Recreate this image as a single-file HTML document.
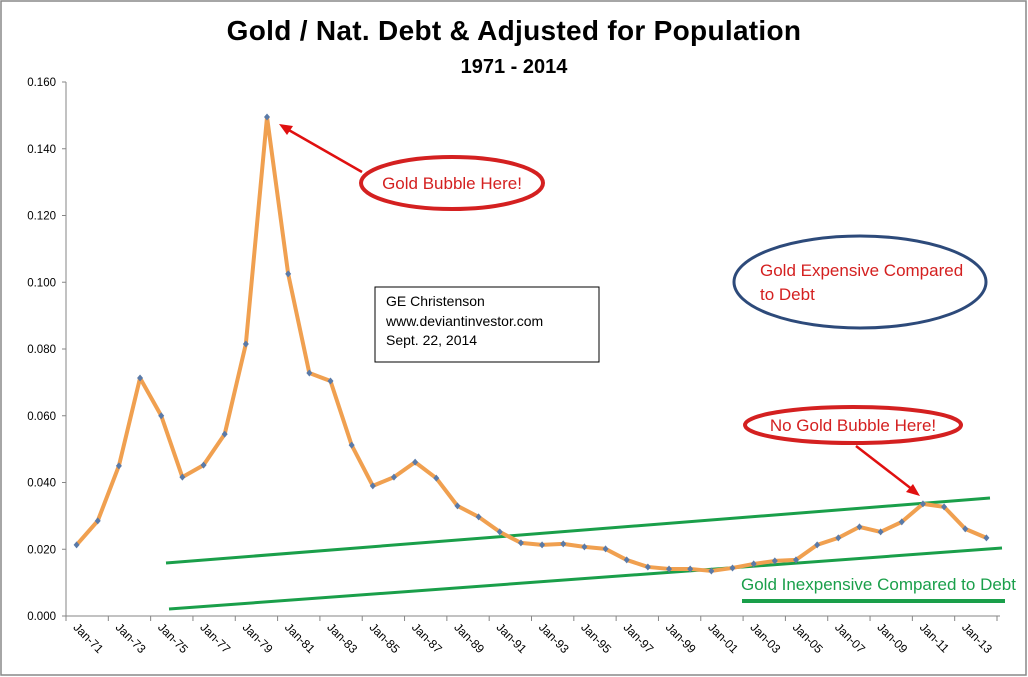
<!DOCTYPE html>
<html><head><meta charset="utf-8"><style>
html,body{margin:0;padding:0;background:#fff}
svg{display:block;font-family:"Liberation Sans",sans-serif}
</style></head><body>
<svg id="c" width="1028" height="677" viewBox="0 0 1028 677">
<rect x="1" y="1" width="1025" height="674" fill="#fff" stroke="#888" stroke-width="1.5"/>
<text x="514" y="40" text-anchor="middle" font-size="28" font-weight="bold" letter-spacing="0.3">Gold / Nat. Debt &amp; Adjusted for Population</text>
<text x="514" y="73" text-anchor="middle" font-size="20" font-weight="bold">1971 - 2014</text>
<g id="axes"></g>
<g id="trend">
<line x1="166" y1="563" x2="990" y2="498" stroke="#1a9f4a" stroke-width="3"/>
<line x1="169" y1="609" x2="1002" y2="548" stroke="#1a9f4a" stroke-width="3"/>
<line x1="742" y1="601" x2="1005" y2="601" stroke="#1a9f4a" stroke-width="4"/>
<text x="741" y="590" font-size="17" fill="#1a9f4a">Gold Inexpensive Compared to Debt</text>
</g>
<g id="series"></g>
<rect x="375" y="287" width="224" height="75" fill="#fff" stroke="#000" stroke-width="1"/>
<text x="386" y="306" font-size="14">GE Christenson</text>
<text x="386" y="326" font-size="14">www.deviantinvestor.com</text>
<text x="386" y="345" font-size="14">Sept. 22, 2014</text>
<ellipse cx="452" cy="183" rx="91" ry="26" fill="#fff" stroke="#d42020" stroke-width="4"/>
<text x="452" y="189" text-anchor="middle" font-size="17" fill="#d42020">Gold Bubble Here!</text>
<line x1="362" y1="172" x2="287" y2="129" stroke="#e01010" stroke-width="2.5"/>
<polygon points="279,124 293,126 287,135" fill="#e01010"/>
<ellipse cx="860" cy="282" rx="126" ry="46" fill="#fff" stroke="#2d4a7a" stroke-width="3"/>
<text x="760" y="276" font-size="17" fill="#d42020">Gold Expensive Compared</text>
<text x="760" y="300" font-size="17" fill="#d42020">to Debt</text>
<ellipse cx="853" cy="425" rx="108" ry="18" fill="#fff" stroke="#d42020" stroke-width="4"/>
<text x="853" y="431" text-anchor="middle" font-size="17" fill="#d42020">No Gold Bubble Here!</text>
<line x1="856" y1="446" x2="913" y2="490" stroke="#e01010" stroke-width="2.5"/>
<polygon points="920,496 906,492 913,484" fill="#e01010"/>
</svg>
<script>
const years = [];
for (let y = 1971; y <= 2014; y++) years.push(y);
const ratioValues = [0.0213,0.0285,0.0450,0.0713,0.0600,0.0416,0.0452,0.0545,0.0815,0.1495,0.1025,0.0728,0.0704,0.0512,0.0390,0.0416,0.0461,0.0413,0.0330,0.0297,0.0252,0.0219,0.0213,0.0216,0.0207,0.0201,0.0168,0.0147,0.0141,0.0141,0.0135,0.0144,0.0156,0.0165,0.0168,0.0213,0.0234,0.0267,0.0252,0.0282,0.0336,0.0327,0.0261,0.0234];
const yTicks = [0,0.02,0.04,0.06,0.08,0.1,0.12,0.14,0.16];
const yTickLabels = ["0.000","0.020","0.040","0.060","0.080","0.100","0.120","0.140","0.160"];

const NS = "http://www.w3.org/2000/svg";
const X0 = 66, X1 = 997, Y0 = 616, Y1 = 82;
const step = (X1 - X0) / years.length;
const xPos = i => X0 + step * (i + 0.5);
const yPos = v => Y0 - (v / 0.16) * (Y0 - Y1);
function mk(tag, attrs, parent) {
  const e = document.createElementNS(NS, tag);
  for (const k in attrs) e.setAttribute(k, attrs[k]);
  parent.appendChild(e);
  return e;
}
const axes = document.getElementById('axes');
const yAxis = mk('line', {x1:X0,y1:Y1,x2:X0,y2:Y0,stroke:'#868686','stroke-width':1}, axes);


const xAxis = mk('line', {x1:X0,y1:Y0,x2:X1+3,y2:Y0,stroke:'#868686','stroke-width':1}, axes);


yTicks.forEach((v, i) => {
  const y = yPos(v);
  mk('line', {x1:X0-4,y1:y,x2:X0,y2:y,stroke:'#868686'}, axes);
  const t = mk('text', {x:X0-10,y:y+4,'text-anchor':'end','font-size':11.5}, axes);
  t.textContent = yTickLabels[i];
  
  
});
for (let i = 0; i <= years.length; i += 2) {
  const x = X0 + step * i;
  mk('line', {x1:x,y1:Y0,x2:x,y2:Y0+5,stroke:'#868686'}, axes);
}
years.forEach((yr, i) => {
  if (i % 2) return;
  const x = xPos(i) - 4, y = Y0 + 12;
  const t = mk('text', {x:x,y:y,'font-size':12,transform:`rotate(45 ${x} ${y})`}, axes);
  t.textContent = 'Jan-' + String(yr).slice(2);
  
  
});
const series = document.getElementById('series');
const pts = ratioValues.map((v, i) => xPos(i) + ',' + yPos(v)).join(' ');
const line = mk('polyline', {points:pts,fill:'none',stroke:'#f0a050','stroke-width':4,'stroke-linejoin':'round'}, series);


ratioValues.forEach((v, i) => {
  const x = xPos(i), y = yPos(v);
  const m = mk('polygon', {points:`${x},${y-3.5} ${x+3},${y} ${x},${y+3.5} ${x-3},${y}`,fill:'#5a7aa8'}, series);
  
  
});
</script>
</body></html>
